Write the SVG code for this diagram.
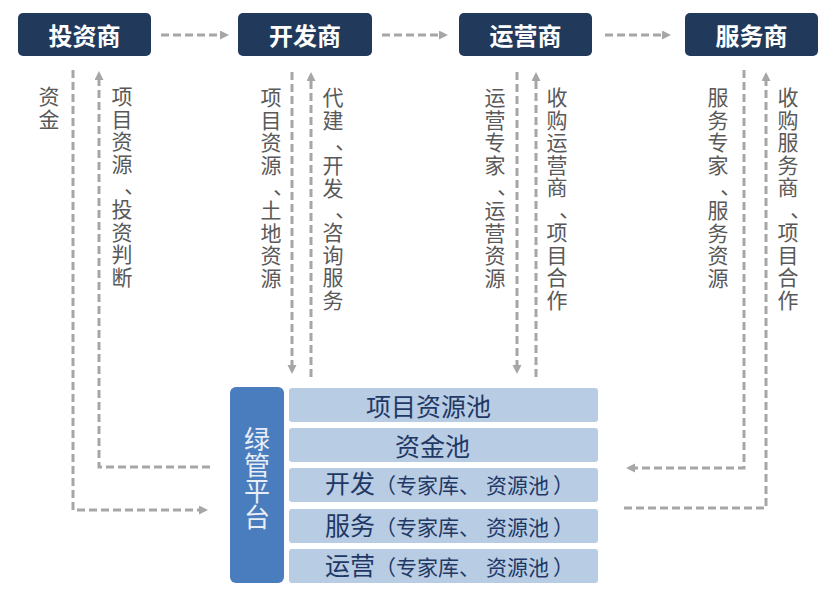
<svg xmlns="http://www.w3.org/2000/svg" width="839" height="594" viewBox="0 0 839 594">
<defs>
<style>
.top rect{fill:#213a5c}
.top text{fill:#ffffff;font-family:"Noto Sans CJK SC","Noto Sans",sans-serif;font-size:24px;font-weight:700;text-anchor:middle}
.lbl{fill:#595959;font-family:"Noto Sans CJK SC","Noto Sans",sans-serif;font-size:21px;writing-mode:tb;letter-spacing:1.5px}
.conn path{fill:none;stroke:#a6a6a6;stroke-width:3;stroke-dasharray:8 4}
.arr{marker-end:url(#ah)}
.row rect{fill:#b8cce4}
.row text{fill:#1f3864;font-family:"Noto Sans CJK SC","Noto Sans",sans-serif;font-size:25px}
.sm{font-size:21px}
</style>
<marker id="ah" markerUnits="userSpaceOnUse" markerWidth="10" markerHeight="10" refX="2" refY="4.5" orient="auto">
<path d="M0,0 L9,4.5 L0,9 z" fill="#a6a6a6"/>
</marker>
</defs>
<rect width="839" height="594" fill="#ffffff"/>

<g id="investor" class="top"><rect x="18" y="13" width="133" height="43" rx="5"/><text x="84.5" y="45">投资商</text></g>
<g id="developer" class="top"><rect x="238" y="13" width="134" height="43" rx="5"/><text x="305" y="45">开发商</text></g>
<g id="operator" class="top"><rect x="459" y="13" width="133" height="43" rx="5"/><text x="525.5" y="45">运营商</text></g>
<g id="service" class="top"><rect x="685" y="13" width="133" height="43" rx="5"/><text x="751.5" y="45">服务商</text></g>

<g id="connectors" class="conn">
<path class="arr" d="M161,35 H222"/>
<path class="arr" d="M382,35 H441"/>
<path class="arr" d="M605,35 H664"/>
<path class="arr" d="M73,70 V510 H201"/>
<path class="arr" d="M210,467 H99 V78"/>
<path class="arr" d="M292,72 V367"/>
<path class="arr" d="M311,377 V79"/>
<path class="arr" d="M517,72 V367"/>
<path class="arr" d="M536,377 V79"/>
<path class="arr" d="M744,70 V468 H633"/>
<path class="arr" d="M624,508 H766 V79"/>
</g>

<g id="labels">
<text class="lbl" x="49" y="86">资金</text>
<text class="lbl" x="122" y="86">项目资源<tspan dy="12">、</tspan><tspan dy="-12">投资判断</tspan></text>
<text class="lbl" x="271" y="87">项目资源<tspan dy="12">、</tspan><tspan dy="-12">土地资源</tspan></text>
<text class="lbl" x="333" y="87">代建<tspan dy="12">、</tspan><tspan dy="-12">开发</tspan><tspan dy="12">、</tspan><tspan dy="-12">咨询服务</tspan></text>
<text class="lbl" x="495" y="87">运营专家<tspan dy="12">、</tspan><tspan dy="-12">运营资源</tspan></text>
<text class="lbl" x="557" y="87">收购运营商<tspan dy="12">、</tspan><tspan dy="-12">项目合作</tspan></text>
<text class="lbl" x="718" y="87">服务专家<tspan dy="12">、</tspan><tspan dy="-12">服务资源</tspan></text>
<text class="lbl" x="788" y="87">收购服务商<tspan dy="12">、</tspan><tspan dy="-12">项目合作</tspan></text>
</g>

<g id="platform">
<rect x="230" y="387" width="54" height="196" rx="6" fill="#4a7dbd"/>
<text x="257" y="426" fill="#e8eef8" font-family="'Noto Sans CJK SC','Noto Sans',sans-serif" font-size="26" writing-mode="tb">绿管平台</text>
</g>

<g id="pool-project" class="row"><rect x="289" y="388" width="309" height="34" rx="3"/><text x="366" y="416">项目资源池</text></g>
<g id="pool-fund" class="row"><rect x="289" y="428" width="309" height="34" rx="3"/><text x="395" y="456">资金池</text></g>
<g id="pool-dev" class="row"><rect x="289" y="468" width="309" height="34" rx="3"/><text x="325" y="493">开发<tspan class="sm">（专家库、</tspan><tspan class="sm" dx="6">资源池</tspan><tspan class="sm" dx="4">）</tspan></text></g>
<g id="pool-service" class="row"><rect x="289" y="509" width="309" height="34" rx="3"/><text x="325" y="535">服务<tspan class="sm">（专家库、</tspan><tspan class="sm" dx="6">资源池</tspan><tspan class="sm" dx="4">）</tspan></text></g>
<g id="pool-ops" class="row"><rect x="289" y="549" width="309" height="34" rx="3"/><text x="325" y="575">运营<tspan class="sm">（专家库、</tspan><tspan class="sm" dx="6">资源池</tspan><tspan class="sm" dx="4">）</tspan></text></g>
</svg>
